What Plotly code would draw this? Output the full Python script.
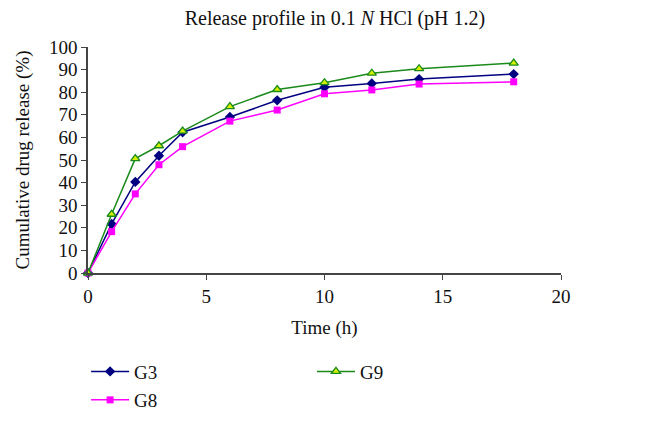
import plotly.graph_objects as go

time_h = [0, 1, 2, 3, 4, 6, 8, 10, 12, 14, 18]
g3 = [0, 21.7, 40.3, 51.9, 62.3, 69.0, 76.4, 82.2, 83.9, 85.8, 88.0]
g8 = [0, 18.3, 35.0, 47.9, 55.9, 67.2, 72.1, 79.3, 81.0, 83.6, 84.6]
g9 = [0, 26.0, 50.6, 56.3, 62.8, 73.6, 81.2, 84.2, 88.4, 90.4, 92.9]

FONT = "Liberation Serif"
FS = 19

fig = go.Figure()
fig.add_trace(go.Scatter(
    x=time_h, y=g3, name="G3", mode="lines+markers",
    line=dict(color="#000080", width=1.5),
    marker=dict(symbol="diamond", size=8, color="#000080"),
    legend="legend", showlegend=True, cliponaxis=False))
fig.add_trace(go.Scatter(
    x=time_h, y=g8, name="G8", mode="lines+markers",
    line=dict(color="#ff00ff", width=1.5),
    marker=dict(symbol="square", size=7, color="#ff00ff"),
    legend="legend2", showlegend=True, cliponaxis=False))
fig.add_trace(go.Scatter(
    x=time_h, y=g9, name="G9", mode="lines+markers",
    line=dict(color="#1a8a1a", width=1.5),
    marker=dict(symbol="triangle-up", size=8, color="#d4f000",
                line=dict(color="#1a8a1a", width=1.3)),
    legend="legend3", showlegend=True, cliponaxis=False))

leg_common = dict(font=dict(family=FONT, size=FS, color="#111"),
                  bgcolor="rgba(0,0,0,0)", xanchor="left", yanchor="middle",
                  itemwidth=38, visible=True)

fig.update_layout(
    width=650, height=414,
    margin=dict(l=80, r=97, t=39, b=149, autoexpand=False),
    showlegend=True,
    paper_bgcolor="white", plot_bgcolor="white",
    font=dict(family=FONT, size=FS, color="#111"),
    title=dict(text="Release profile in 0.1 <i>N</i> HCl (pH 1.2)",
               x=0.503, xanchor="center", y=0.976, yanchor="middle",
               font=dict(family=FONT, size=20, color="#111")),
    xaxis=dict(range=[0, 20], tickvals=[0, 5, 10, 15, 20],
               showgrid=False, zeroline=False, automargin=False,
               showline=True, linecolor="#444", linewidth=1.5,
               ticks="outside", ticklen=5, tickcolor="#444", tickwidth=1.2,
               tickfont=dict(family=FONT, size=FS, color="#111"),
               title=dict(text="Time (h)", standoff=15,
                          font=dict(family=FONT, size=FS, color="#111"))),
    yaxis=dict(range=[0, 100], tickvals=list(range(0, 101, 10)),
               showgrid=False, zeroline=False, automargin=False,
               showline=True, linecolor="#444", linewidth=1.5,
               ticks="outside", ticklen=5, tickcolor="#444", tickwidth=1.2,
               tickfont=dict(family=FONT, size=FS, color="#111"),
               title=dict(text="Cumulative drug release (%)", standoff=14,
                          font=dict(family=FONT, size=FS, color="#111"))),
    legend=dict(x=-0.004, y=-0.436, **leg_common),
    legend2=dict(x=-0.004, y=-0.562, **leg_common),
    legend3=dict(x=0.4735, y=-0.436, **leg_common),
)

fig.write_html("out.html")
